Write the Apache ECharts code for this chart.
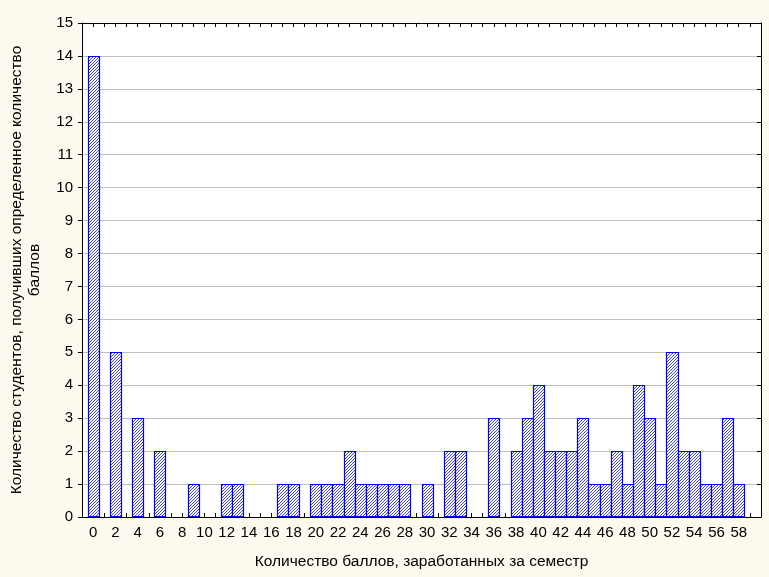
<!DOCTYPE html>
<html>
<head>
<meta charset="utf-8">
<script src="https://cdn.jsdelivr.net/npm/echarts@6/dist/echarts.min.js"></script>
<style>
html,body{margin:0;padding:0;background:#fdf9ee;}
#chart{width:769px;height:577px;}
</style>
</head>
<body>
<div id="chart"></div>
<script>
var scores = [0,1,2,3,4,5,6,7,8,9,10,11,12,13,14,15,16,17,18,19,20,21,22,23,24,25,26,27,28,29,30,31,32,33,34,35,36,37,38,39,40,41,42,43,44,45,46,47,48,49,50,51,52,53,54,55,56,57,58];
var counts = [14,0,5,0,3,0,2,0,0,1,0,0,1,1,0,0,0,1,1,0,1,1,1,2,1,1,1,1,1,0,1,0,2,2,0,0,3,0,2,3,4,2,2,2,3,1,1,2,1,4,3,1,5,2,2,1,1,3,1];
var yTicks = [0,1,2,3,4,5,6,7,8,9,10,11,12,13,14,15];
var xTitle = 'Количество баллов, заработанных за семестр';
var yTitle = 'Количество студентов, получивших определенное количество\nбаллов';

var data = scores.map(function (s, i) { return [s, counts[i]]; }).filter(function (d) { return d[1] > 0; });

var font = 'Liberation Sans, Arial, sans-serif';
var HATCH = 3;
var chart = echarts.init(document.getElementById('chart'));
chart.setOption({
  backgroundColor: '#fdf9ee',
  animation: false,
  grid: {left: 80, top: 23, right: 8, bottom: 60, show: true, backgroundColor: '#ffffff', borderWidth: 0},
  xAxis: [{
    type: 'value', min: -1, max: 60, interval: 1,
    axisLine: {show: true, onZero: false, lineStyle: {color: '#000', width: 1}},
    axisTick: {show: true, inside: true, length: 4, lineStyle: {color: '#000'}},
    axisLabel: {
      fontFamily: font, fontSize: 15, color: '#000', margin: 8,
      formatter: function (v) { return (v >= 0 && v <= 58 && v % 2 === 0) ? String(v) : ''; }
    },
    splitLine: {show: false},
    name: xTitle, nameLocation: 'middle', nameGap: 37,
    nameTextStyle: {fontFamily: font, fontSize: 15.5, color: '#000'}
  }, {
    type: 'value', min: -1, max: 60, interval: 1, position: 'top',
    axisLine: {show: true, onZero: false, lineStyle: {color: '#000', width: 1}},
    axisTick: {show: true, inside: true, length: 4, lineStyle: {color: '#000'}},
    axisLabel: {show: false}, splitLine: {show: false}
  }],
  yAxis: [{
    type: 'value', min: yTicks[0], max: yTicks[yTicks.length - 1], interval: 1,
    axisLine: {show: true, onZero: false, lineStyle: {color: '#000', width: 1}},
    axisTick: {show: true, inside: false, length: 4, lineStyle: {color: '#000'}},
    axisLabel: {fontFamily: font, fontSize: 15, color: '#000', margin: 9},
    splitLine: {show: true, lineStyle: {color: '#c0c0c0', width: 1}},
    name: yTitle, nameLocation: 'middle', nameGap: 38, nameRotate: 90,
    nameTextStyle: {fontFamily: font, fontSize: 15.5, color: '#000', lineHeight: 18, align: 'center'}
  }, {
    type: 'value', min: yTicks[0], max: yTicks[yTicks.length - 1], interval: 1, position: 'right',
    axisLine: {show: true, onZero: false, lineStyle: {color: '#000', width: 1}},
    axisTick: {show: true, inside: true, length: 4, lineStyle: {color: '#000'}},
    axisLabel: {show: false}, splitLine: {show: false}
  }],
  series: [{
    type: 'custom',
    xAxisIndex: 0, yAxisIndex: 0,
    data: data,
    encode: {x: 0, y: 1},
    renderItem: function (params, api) {
      var x = api.value(0), y = api.value(1);
      var p0 = api.coord([x - 0.5, y]);
      var p1 = api.coord([x + 0.5, 0]);
      var x0 = Math.round(p0[0]) + 0.5, x1 = Math.round(p1[0]) + 0.5;
      var y0 = Math.round(p0[1]) + 0.5, y1 = Math.round(p1[1]) - 0.5;
      var children = [{
        type: 'rect',
        shape: {x: x0, y: y0, width: x1 - x0, height: y1 - y0},
        style: {fill: '#ffffff', stroke: null}
      }];
      var start = Math.ceil((x0 + y0) / HATCH) * HATCH;
      for (var k = start; k <= x1 + y1; k += HATCH) {
        var xa = Math.max(x0, k - y1), xb = Math.min(x1, k - y0);
        if (xb - xa < 0.5) continue;
        children.push({
          type: 'line',
          shape: {x1: xa, y1: k - xa, x2: xb, y2: k - xb},
          style: {stroke: '#2a2aff', lineWidth: 0.9}
        });
      }
      children.push({
        type: 'rect',
        shape: {x: x0, y: y0, width: x1 - x0, height: y1 - y0},
        style: {fill: null, stroke: '#0000ff', lineWidth: 1.2}
      });
      return {type: 'group', children: children};
    }
  }]
});
</script>
</body>
</html>
